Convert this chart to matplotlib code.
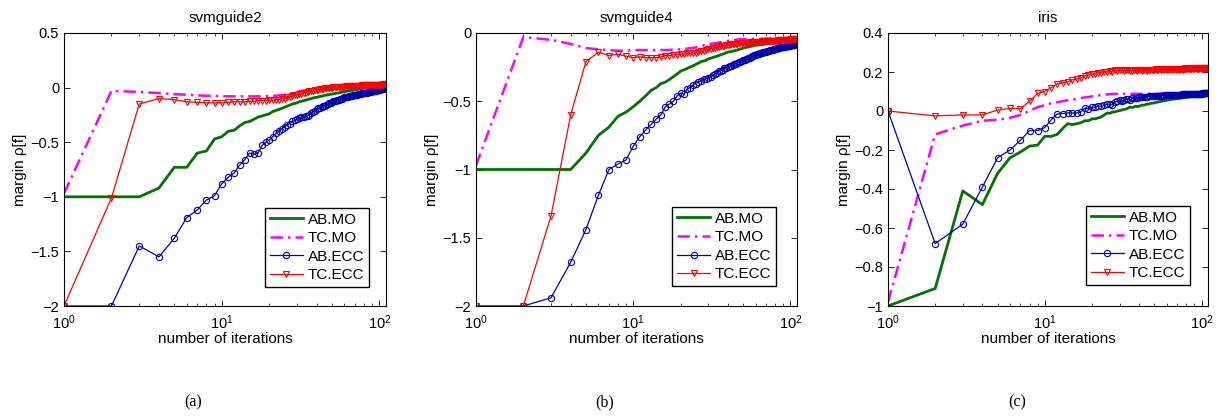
import matplotlib
matplotlib.use("Agg")
from matplotlib import pyplot as plt
from matplotlib.ticker import FuncFormatter, FixedLocator

plt.rcParams['font.family'] = ['Liberation Sans', 'DejaVu Sans']

titles = ['svmguide2', 'svmguide4', 'iris']
sub_labels = ['(a)', '(b)', '(c)']
names = ['AB.MO', 'TC.MO', 'AB.ECC', 'TC.ECC']

# ---- svmguide2 ----
a_ab_mo = [
    -1.00, -1.00, -1.00, -0.92, -0.73, -0.73, -0.60, -0.58, -0.47, -0.45,
    -0.40, -0.39, -0.35, -0.32, -0.31, -0.29, -0.27, -0.26, -0.25, -0.24,
    -0.22, -0.21, -0.20, -0.19, -0.18, -0.17, -0.16, -0.15, -0.145, -0.14,
    -0.13, -0.125, -0.12, -0.115, -0.11, -0.105, -0.10, -0.095, -0.09, -0.09,
    -0.085, -0.08, -0.08, -0.075, -0.07, -0.07, -0.065, -0.065, -0.06, -0.06,
    -0.055, -0.055, -0.05, -0.05, -0.05, -0.045, -0.045, -0.04, -0.04, -0.04,
    -0.035, -0.035, -0.03, -0.03, -0.03, -0.025, -0.025, -0.025, -0.02, -0.02,
    -0.02, -0.015, -0.015, -0.015, -0.01, -0.01, -0.01, -0.01, -0.005, -0.005,
    -0.005, 0.0, 0.0, 0.0, 0.0, 0.005, 0.005, 0.005, 0.005, 0.01,
    0.01, 0.01, 0.01, 0.01, 0.01, 0.012, 0.012, 0.012, 0.015, 0.015,
    0.015, 0.015, 0.015, 0.018, 0.018, 0.018, 0.02, 0.02, 0.02, 0.02]
a_tc_mo = [
    -0.97, -0.03, -0.04, -0.05, -0.06, -0.065, -0.07, -0.075, -0.075, -0.08,
    -0.08, -0.08, -0.08, -0.08, -0.08, -0.08, -0.08, -0.08, -0.08, -0.075,
    -0.075, -0.075, -0.07, -0.07, -0.065, -0.06, -0.055, -0.05, -0.045, -0.04,
    -0.035, -0.03, -0.028, -0.025, -0.022, -0.02, -0.018, -0.015, -0.013, -0.01,
    -0.008, -0.006, -0.004, -0.002, 0.0, 0.0, 0.002, 0.004, 0.005, 0.006,
    0.007, 0.008, 0.009, 0.01, 0.01, 0.011, 0.012, 0.012, 0.013, 0.013,
    0.014, 0.014, 0.015, 0.015, 0.015, 0.016, 0.016, 0.016, 0.017, 0.017,
    0.017, 0.018, 0.018, 0.018, 0.018, 0.019, 0.019, 0.019, 0.019, 0.02,
    0.02, 0.02, 0.02, 0.02, 0.02, 0.02, 0.02, 0.02, 0.02, 0.02,
    0.021, 0.021, 0.021, 0.021, 0.021, 0.021, 0.021, 0.022, 0.022, 0.022,
    0.022, 0.022, 0.022, 0.022, 0.023, 0.023, 0.023, 0.023, 0.023, 0.023]
a_ab_ecc = [
    -2.00, -2.00, -1.45, -1.55, -1.38, -1.19, -1.12, -1.03, -0.99, -0.88,
    -0.82, -0.78, -0.71, -0.66, -0.60, -0.61, -0.60, -0.53, -0.50, -0.48,
    -0.45, -0.42, -0.40, -0.38, -0.36, -0.34, -0.33, -0.31, -0.30, -0.29,
    -0.28, -0.27, -0.27, -0.26, -0.26, -0.25, -0.23, -0.22, -0.21, -0.20,
    -0.19, -0.19, -0.18, -0.17, -0.17, -0.16, -0.15, -0.145, -0.14, -0.13,
    -0.125, -0.12, -0.12, -0.115, -0.11, -0.105, -0.10, -0.10, -0.095, -0.09,
    -0.09, -0.085, -0.085, -0.08, -0.08, -0.078, -0.075, -0.072, -0.07, -0.07,
    -0.068, -0.065, -0.063, -0.06, -0.058, -0.056, -0.054, -0.052, -0.05, -0.05,
    -0.048, -0.046, -0.045, -0.043, -0.042, -0.04, -0.038, -0.037, -0.035, -0.034,
    -0.032, -0.031, -0.03, -0.028, -0.027, -0.025, -0.024, -0.022, -0.02, -0.019,
    -0.018, -0.016, -0.015, -0.013, -0.012, -0.01, -0.008, -0.006, -0.004, -0.002]
a_tc_ecc = [
    -2.00, -1.01, -0.15, -0.10, -0.11, -0.13, -0.135, -0.14, -0.14, -0.14,
    -0.135, -0.13, -0.13, -0.13, -0.125, -0.125, -0.12, -0.12, -0.12, -0.115,
    -0.115, -0.11, -0.11, -0.10, -0.10, -0.09, -0.085, -0.075, -0.07, -0.065,
    -0.06, -0.055, -0.05, -0.045, -0.04, -0.035, -0.03, -0.028, -0.025, -0.02,
    -0.018, -0.015, -0.012, -0.01, -0.008, -0.006, -0.004, -0.002, 0.0, 0.0,
    0.002, 0.003, 0.004, 0.005, 0.006, 0.007, 0.008, 0.009, 0.01, 0.01,
    0.011, 0.012, 0.012, 0.013, 0.014, 0.014, 0.015, 0.015, 0.016, 0.016,
    0.017, 0.017, 0.018, 0.018, 0.019, 0.019, 0.02, 0.02, 0.02, 0.021,
    0.021, 0.022, 0.022, 0.022, 0.023, 0.023, 0.023, 0.024, 0.024, 0.024,
    0.025, 0.025, 0.025, 0.025, 0.026, 0.026, 0.026, 0.026, 0.027, 0.027,
    0.027, 0.027, 0.028, 0.028, 0.028, 0.029, 0.029, 0.029, 0.03, 0.03]

# ---- svmguide4 ----
b_ab_mo = [
    -1.00, -1.00, -1.00, -1.00, -0.88, -0.75, -0.69, -0.61, -0.58, -0.54,
    -0.50, -0.46, -0.42, -0.40, -0.37, -0.36, -0.34, -0.32, -0.30, -0.28,
    -0.27, -0.26, -0.25, -0.24, -0.23, -0.22, -0.21, -0.205, -0.20, -0.19,
    -0.185, -0.18, -0.175, -0.17, -0.165, -0.16, -0.155, -0.15, -0.145, -0.14,
    -0.138, -0.135, -0.132, -0.13, -0.127, -0.124, -0.12, -0.117, -0.114, -0.11,
    -0.108, -0.106, -0.104, -0.102, -0.10, -0.098, -0.096, -0.094, -0.092, -0.09,
    -0.089, -0.088, -0.087, -0.086, -0.085, -0.084, -0.083, -0.082, -0.081, -0.08,
    -0.079, -0.078, -0.077, -0.076, -0.075, -0.074, -0.073, -0.072, -0.071, -0.07,
    -0.069, -0.069, -0.068, -0.068, -0.067, -0.067, -0.066, -0.066, -0.065, -0.065,
    -0.064, -0.064, -0.063, -0.063, -0.062, -0.062, -0.061, -0.061, -0.06, -0.06,
    -0.06, -0.059, -0.059, -0.058, -0.058, -0.057, -0.057, -0.056, -0.056, -0.055]
b_tc_mo = [
    -0.97, -0.03, -0.05, -0.08, -0.11, -0.12, -0.125, -0.13, -0.13, -0.125,
    -0.125, -0.125, -0.125, -0.125, -0.125, -0.125, -0.125, -0.12, -0.12, -0.12,
    -0.115, -0.115, -0.11, -0.11, -0.105, -0.10, -0.095, -0.09, -0.09, -0.085,
    -0.08, -0.078, -0.075, -0.072, -0.07, -0.068, -0.065, -0.062, -0.06, -0.058,
    -0.056, -0.054, -0.052, -0.05, -0.05, -0.048, -0.047, -0.046, -0.045, -0.045,
    -0.045, -0.045, -0.045, -0.044, -0.044, -0.044, -0.044, -0.044, -0.043, -0.043,
    -0.043, -0.043, -0.043, -0.043, -0.042, -0.042, -0.042, -0.042, -0.042, -0.042,
    -0.042, -0.042, -0.041, -0.041, -0.041, -0.041, -0.041, -0.041, -0.041, -0.041,
    -0.041, -0.041, -0.04, -0.04, -0.04, -0.04, -0.04, -0.04, -0.04, -0.04,
    -0.04, -0.04, -0.04, -0.04, -0.04, -0.04, -0.04, -0.04, -0.04, -0.04,
    -0.04, -0.04, -0.04, -0.04, -0.04, -0.04, -0.04, -0.04, -0.04, -0.04]
b_ab_ecc = [
    -2.00, -2.00, -1.94, -1.68, -1.44, -1.19, -1.00, -0.96, -0.93, -0.83,
    -0.76, -0.71, -0.67, -0.63, -0.60, -0.54, -0.52, -0.50, -0.46, -0.44,
    -0.45, -0.41, -0.40, -0.38, -0.37, -0.36, -0.35, -0.34, -0.335, -0.33,
    -0.32, -0.31, -0.30, -0.29, -0.28, -0.275, -0.27, -0.26, -0.255, -0.25,
    -0.245, -0.24, -0.235, -0.23, -0.225, -0.22, -0.215, -0.21, -0.205, -0.20,
    -0.196, -0.192, -0.188, -0.184, -0.18, -0.176, -0.172, -0.168, -0.164, -0.16,
    -0.157, -0.154, -0.151, -0.148, -0.146, -0.144, -0.142, -0.14, -0.138, -0.136,
    -0.134, -0.132, -0.13, -0.128, -0.126, -0.124, -0.122, -0.12, -0.118, -0.116,
    -0.114, -0.112, -0.11, -0.108, -0.107, -0.106, -0.105, -0.104, -0.103, -0.102,
    -0.10, -0.099, -0.098, -0.097, -0.096, -0.095, -0.094, -0.093, -0.092, -0.091,
    -0.09, -0.089, -0.088, -0.087, -0.086, -0.085, -0.084, -0.083, -0.082, -0.08]
b_tc_ecc = [
    -2.00, -2.00, -1.34, -0.60, -0.21, -0.14, -0.165, -0.155, -0.17, -0.18,
    -0.175, -0.18, -0.18, -0.18, -0.175, -0.165, -0.165, -0.16, -0.16, -0.155,
    -0.155, -0.15, -0.15, -0.148, -0.145, -0.14, -0.135, -0.13, -0.125, -0.12,
    -0.115, -0.11, -0.108, -0.105, -0.10, -0.098, -0.095, -0.092, -0.09, -0.088,
    -0.086, -0.084, -0.082, -0.08, -0.078, -0.077, -0.076, -0.075, -0.074, -0.073,
    -0.072, -0.071, -0.07, -0.07, -0.069, -0.068, -0.068, -0.067, -0.066, -0.066,
    -0.065, -0.065, -0.064, -0.064, -0.063, -0.063, -0.062, -0.062, -0.061, -0.061,
    -0.06, -0.06, -0.059, -0.059, -0.058, -0.058, -0.057, -0.057, -0.056, -0.056,
    -0.055, -0.055, -0.054, -0.054, -0.053, -0.053, -0.052, -0.052, -0.051, -0.051,
    -0.05, -0.05, -0.05, -0.049, -0.049, -0.049, -0.048, -0.048, -0.048, -0.047,
    -0.047, -0.047, -0.046, -0.046, -0.046, -0.046, -0.045, -0.045, -0.045, -0.045]

# ---- iris ----
c_ab_mo = [
    -1.00, -0.91, -0.41, -0.48, -0.32, -0.24, -0.21, -0.18, -0.175, -0.13,
    -0.13, -0.12, -0.09, -0.065, -0.07, -0.065, -0.06, -0.05, -0.05, -0.04,
    -0.04, -0.035, -0.03, -0.02, -0.01, -0.012, -0.005, -0.005, 0.0, 0.002,
    0.005, 0.008, 0.01, 0.015, 0.02, 0.018, 0.02, 0.025, 0.022, 0.025,
    0.028, 0.03, 0.03, 0.033, 0.035, 0.035, 0.038, 0.04, 0.04, 0.042,
    0.044, 0.045, 0.046, 0.048, 0.05, 0.05, 0.052, 0.053, 0.054, 0.055,
    0.056, 0.057, 0.058, 0.059, 0.06, 0.06, 0.061, 0.062, 0.063, 0.063,
    0.064, 0.065, 0.066, 0.066, 0.067, 0.068, 0.068, 0.069, 0.07, 0.07,
    0.071, 0.071, 0.072, 0.072, 0.073, 0.073, 0.074, 0.074, 0.075, 0.075,
    0.076, 0.076, 0.077, 0.077, 0.078, 0.078, 0.078, 0.079, 0.079, 0.08,
    0.08, 0.081, 0.081, 0.081, 0.082, 0.082, 0.082, 0.083, 0.083, 0.083]
c_tc_mo = [
    -0.98, -0.12, -0.075, -0.05, -0.045, -0.035, -0.02, 0.0, 0.02, 0.03,
    0.04, 0.045, 0.05, 0.055, 0.058, 0.062, 0.066, 0.07, 0.072, 0.075,
    0.078, 0.08, 0.082, 0.084, 0.085, 0.086, 0.087, 0.088, 0.088, 0.088,
    0.088, 0.088, 0.088, 0.088, 0.088, 0.088, 0.088, 0.088, 0.088, 0.088,
    0.088, 0.088, 0.088, 0.088, 0.088, 0.088, 0.088, 0.088, 0.088, 0.088,
    0.088, 0.088, 0.088, 0.089, 0.089, 0.089, 0.089, 0.089, 0.089, 0.089,
    0.089, 0.089, 0.089, 0.089, 0.089, 0.089, 0.089, 0.089, 0.089, 0.089,
    0.089, 0.089, 0.089, 0.089, 0.089, 0.089, 0.089, 0.089, 0.089, 0.089,
    0.09, 0.09, 0.09, 0.09, 0.09, 0.09, 0.09, 0.09, 0.09, 0.09,
    0.09, 0.09, 0.09, 0.09, 0.09, 0.09, 0.09, 0.09, 0.09, 0.09,
    0.09, 0.09, 0.09, 0.09, 0.09, 0.09, 0.09, 0.09, 0.09, 0.09]
c_ab_ecc = [
    0.0, -0.68, -0.58, -0.39, -0.24, -0.20, -0.15, -0.10, -0.10, -0.085,
    -0.045, -0.015, -0.013, -0.01, -0.01, -0.01, -0.005, 0.015, 0.01, 0.02,
    0.02, 0.025, 0.025, 0.03, 0.035, 0.035, 0.03, 0.045, 0.05, 0.055,
    0.05, 0.055, 0.06, 0.06, 0.055, 0.065, 0.065, 0.068, 0.068, 0.07,
    0.07, 0.072, 0.072, 0.073, 0.074, 0.075, 0.075, 0.076, 0.076, 0.077,
    0.077, 0.078, 0.078, 0.078, 0.079, 0.079, 0.079, 0.08, 0.08, 0.08,
    0.081, 0.081, 0.081, 0.082, 0.082, 0.082, 0.083, 0.083, 0.083, 0.083,
    0.084, 0.084, 0.084, 0.084, 0.085, 0.085, 0.085, 0.085, 0.086, 0.086,
    0.086, 0.086, 0.086, 0.087, 0.087, 0.087, 0.087, 0.087, 0.088, 0.088,
    0.088, 0.088, 0.088, 0.088, 0.089, 0.089, 0.089, 0.089, 0.089, 0.089,
    0.09, 0.09, 0.09, 0.09, 0.09, 0.09, 0.09, 0.09, 0.09, 0.09]
c_tc_ecc = [
    0.0, -0.025, -0.02, -0.02, 0.005, 0.013, 0.012, 0.05, 0.09, 0.10,
    0.12, 0.14, 0.145, 0.15, 0.16, 0.165, 0.17, 0.18, 0.185, 0.19,
    0.19, 0.195, 0.195, 0.20, 0.20, 0.205, 0.20, 0.21, 0.205, 0.21,
    0.21, 0.205, 0.21, 0.21, 0.205, 0.205, 0.21, 0.21, 0.205, 0.21,
    0.21, 0.205, 0.21, 0.212, 0.207, 0.21, 0.212, 0.208, 0.212, 0.21,
    0.213, 0.208, 0.212, 0.214, 0.209, 0.213, 0.215, 0.21, 0.214, 0.212,
    0.215, 0.21, 0.214, 0.216, 0.211, 0.215, 0.213, 0.216, 0.211, 0.215,
    0.217, 0.212, 0.216, 0.214, 0.217, 0.212, 0.216, 0.218, 0.213, 0.217,
    0.215, 0.218, 0.213, 0.217, 0.219, 0.214, 0.218, 0.216, 0.219, 0.214,
    0.218, 0.22, 0.215, 0.219, 0.217, 0.22, 0.215, 0.219, 0.221, 0.216,
    0.22, 0.218, 0.221, 0.216, 0.22, 0.222, 0.217, 0.221, 0.219, 0.222]

panels = [
    (a_ab_mo, a_tc_mo, a_ab_ecc, a_tc_ecc),
    (b_ab_mo, b_tc_mo, b_ab_ecc, b_tc_ecc),
    (c_ab_mo, c_tc_mo, c_ab_ecc, c_tc_ecc),
]
yticks = [
    [-2, -1.5, -1, -0.5, 0, 0.5],
    [-2, -1.5, -1, -0.5, 0],
    [-1, -0.8, -0.6, -0.4, -0.2, 0, 0.2, 0.4],
]
ylims = [(-2, 0.5), (-2, 0), (-1, 0.4)]
lefts = [64, 476, 888]
widths = [322, 321, 320]
legend_anchor = [(0.947, 0.07), (0.935, 0.073), (0.944, 0.077)]
label_x = [193, 605, 1017]

W, H = 1222, 416
fig = plt.figure(figsize=(W / 100, H / 100), dpi=100)

styles = [
    dict(color=(0, 0.45, 0), lw=2.0, ls='-'),
    dict(color=(1, 0, 1), lw=1.8, ls=(0, (5, 2, 1, 2))),
    dict(color=(0, 0, 0.7), lw=0.9, ls='-', marker='o', ms=4.5, mfc='none', mew=0.8),
    dict(color=(1, 0, 0), lw=0.9, ls='-', marker='v', ms=5, mfc='none', mew=0.8),
]

def fmt(v, pos):
    return f"{v:g}".replace('-', '\u2212')

for i in range(3):
    ax = fig.add_axes([lefts[i] / W, 1 - 306 / H, widths[i] / W, 273 / H])
    for name, ys, st in zip(names, panels[i], styles):
        xs = list(range(1, len(ys) + 1))
        ax.plot(xs, ys, label=name, **st)
    ax.set_xscale('log')
    ax.set_xlim(1, 110)
    ax.set_ylim(*ylims[i])
    ax.yaxis.set_major_locator(FixedLocator(yticks[i]))
    ax.yaxis.set_major_formatter(FuncFormatter(fmt))
    ax.tick_params(which='both', direction='in', top=True, right=True, labelsize=10.5)
    ax.tick_params(which='major', length=4, width=0.6)
    ax.tick_params(which='minor', length=2.5, width=0.5)
    ax.tick_params(axis='x', which='major', pad=5)
    for s in ax.spines.values():
        s.set_linewidth(0.8)
    ax.set_title(titles[i], fontsize=11, pad=8)
    ax.set_xlabel('number of iterations', fontsize=11, labelpad=0)
    ax.set_ylabel('margin \u03c1[f]', fontsize=11, labelpad=2)
    leg = ax.legend(loc='lower right', bbox_to_anchor=legend_anchor[i], fontsize=11,
                    fancybox=False, framealpha=1, edgecolor='black', borderpad=0.3,
                    labelspacing=0.3, handlelength=2.2, handletextpad=0.3,
                    borderaxespad=0)
    leg.get_frame().set_linewidth(1.0)
    fig.text(label_x[i] / W, 1 - 402 / H, sub_labels[i], ha='center', va='center',
             fontsize=11.5, family=['Liberation Serif', 'DejaVu Serif'])

fig.savefig('out.png', dpi=100)
